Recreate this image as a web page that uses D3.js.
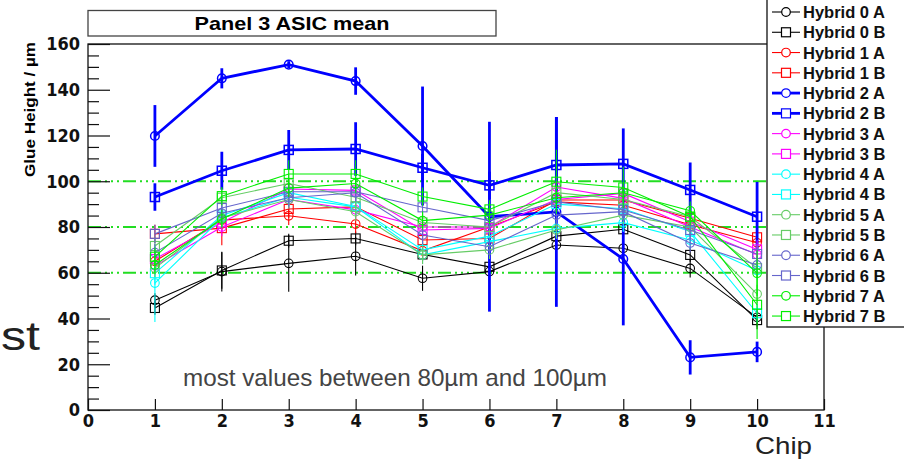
<!DOCTYPE html>
<html><head><meta charset="utf-8">
<script src="https://cdn.jsdelivr.net/npm/d3@7"></script>
<style>
body{margin:0;background:#fff;}
svg{display:block;}
</style></head>
<body><svg id="c" width="904" height="461"></svg>
<script>
// ---------- data ----------
const chips = [1,2,3,4,5,6,7,8,9,10];
const xTicks = [0,1,2,3,4,5,6,7,8,9,10,11];
const yTicks = [0,20,40,60,80,100,120,140,160];
const refLines = [60,80,100];
const seriesNames = ["Hybrid 0 A","Hybrid 0 B","Hybrid 1 A","Hybrid 1 B","Hybrid 2 A","Hybrid 2 B","Hybrid 3 A","Hybrid 3 B",
                     "Hybrid 4 A","Hybrid 4 B","Hybrid 5 A","Hybrid 5 B","Hybrid 6 A","Hybrid 6 B","Hybrid 7 A","Hybrid 7 B"];
const h0A = [48.0, 60.5, 64.1, 67.2, 57.6, 60.5, 72.1, 70.7, 61.9, 40.5];
const h0B = [44.6, 61.0, 74.0, 75.0, 68.0, 62.6, 76.0, 79.0, 67.8, 39.3];
const h1A = [65.0, 83.0, 84.9, 81.3, 69.6, 80.0, 91.0, 89.5, 81.0, 73.1];
const h1B = [77.0, 79.5, 87.9, 88.8, 74.3, 75.0, 91.8, 91.8, 83.8, 75.5];
const h2A = [119.8, 145.0, 151.0, 143.8, 115.4, 84.5, 86.6, 66.0, 23.0, 25.4];
const h2B = [93.1, 104.6, 113.7, 114.1, 105.9, 98.2, 107.1, 107.6, 96.2, 84.5];
const h3A = [63.0, 80.0, 92.0, 87.5, 80.0, 80.0, 97.5, 92.5, 80.0, 68.0];
const h3B = [66.0, 82.0, 96.6, 96.0, 78.7, 79.4, 92.0, 94.7, 82.3, 70.2];
const h4A = [55.5, 84.0, 93.0, 88.8, 67.8, 73.6, 79.4, 81.9, 74.3, 61.0];
const h4B = [59.8, 85.0, 95.0, 89.0, 70.0, 76.0, 90.0, 88.0, 78.0, 42.3];
const h5A = [62.0, 84.0, 92.0, 86.7, 67.8, 70.0, 78.7, 85.2, 80.0, 50.7];
const h5B = [71.7, 92.8, 99.0, 93.0, 82.0, 80.0, 95.0, 92.0, 84.5, 62.0];
const h6A = [68.8, 86.0, 92.8, 95.0, 76.5, 71.4, 85.2, 86.7, 73.0, 63.4];
const h6B = [77.0, 88.3, 95.4, 95.4, 88.6, 82.8, 91.0, 87.4, 78.7, 68.2];
const h7A = [63.4, 83.5, 97.0, 99.0, 82.8, 85.2, 92.8, 95.0, 87.1, 59.8];
const h7B = [67.0, 93.5, 103.2, 103.2, 93.3, 87.7, 99.8, 97.3, 84.5, 46.0];
// errors (half-widths)
const e0A = [3, 8.7, 12.4, 8.4, 5.5, 4, 4, 4, 4, 4];
const e0B = [3, 8, 3, 3, 3, 3, 4, 3, 3, 4];
const e1A = [4, 4, 4, 4, 4, 4, 4, 4, 4, 4];
const e1B = [4, 7.5, 4, 4, 4, 4, 4, 4, 4, 4];
const e2A = [13.5, 4.4, 1.5, 6, 26, 41.5, 41.5, 29, 7.5, 4.5];
const e2B = [6, 8.3, 8.7, 11.7, 6, 6, 21, 15.5, 12, 15.2];
const e3A = [4, 4, 4, 4, 4, 4, 4, 4, 4, 4];
const e3B = [4, 4, 4, 4, 4, 4, 4, 4, 4, 4];
const e4A = [17, 4, 4, 4, 4, 4, 4, 4, 4, 4];
const e4B = [5, 4, 4, 4, 4, 4, 4, 4, 4, 4];
const e5A = [4, 4, 4, 4, 4, 4, 4, 4, 4, 4];
const e5B = [4, 4, 4, 4, 4, 4, 4, 4, 4, 4];
const e6A = [4, 4, 4, 4, 4, 4, 4, 4, 4, 4];
const e6B = [4, 4, 4, 4, 4, 4, 4, 4, 4, 4];
const e7A = [4, 4, 4, 4, 4, 4, 4, 4, 4, 10];
const e7B = [4, 4, 6, 6, 4, 4, 14, 9, 4, 15];

const values = [h0A,h0B,h1A,h1B,h2A,h2B,h3A,h3B,h4A,h4B,h5A,h5B,h6A,h6B,h7A,h7B];
const errors = [e0A,e0B,e1A,e1B,e2A,e2B,e3A,e3B,e4A,e4B,e5A,e5B,e6A,e6B,e7A,e7B];
const hybridColors = ["#000000","#ff0000","#0000ff","#ff00ff","#00ffff","#66cc66","#6666cc","#00ee00"];

// ---------- drawing ----------
const svg = d3.select("#c");
const x = d3.scaleLinear().domain([0,11]).range([88,824]);
const y = d3.scaleLinear().domain([0,160]).range([410,44]);
const boldNarrow = "'Liberation Sans Narrow','DejaVu Sans Condensed','Liberation Sans',Arial,sans-serif";

svg.append("rect").attr("width",904).attr("height",461).attr("fill","#fff");

// large text at left edge
svg.append("text").attr("x",1).attr("y",350).attr("font-family","'Liberation Sans',Arial,sans-serif")
  .attr("font-size",40).attr("fill","#222").attr("textLength",39).attr("lengthAdjust","spacingAndGlyphs").text("st");

// title box
svg.append("rect").attr("x",88).attr("y",10.5).attr("width",408).attr("height",25.5)
  .attr("fill","#fff").attr("stroke","#444").attr("stroke-width",1.3);
svg.append("text").attr("x",292).attr("y",30).attr("text-anchor","middle")
  .attr("font-family","'Liberation Sans',Arial,sans-serif").attr("font-weight","bold")
  .attr("font-size",19).attr("textLength",195).attr("lengthAdjust","spacingAndGlyphs").text("Panel 3 ASIC mean");

// reference lines
svg.append("g").selectAll("line").data(refLines).join("line")
  .attr("x1",x(0)).attr("x2",x(11)).attr("y1",d=>y(d)).attr("y2",d=>y(d))
  .attr("stroke","#22dd22").attr("stroke-width",2).attr("stroke-dasharray","13,4,2,4,2,4,2,4");

// series
values.forEach((vals,i)=>{
  const col = hybridColors[Math.floor(i/2)];
  const thick = (i===4||i===5);
  const lw = thick?2.8:1.1;
  const g = svg.append("g");
  const pts = chips.map((c,k)=>({c, v:vals[k], e:errors[i][k]}));
  g.selectAll("line.err").data(pts).join("line").attr("class","err")
    .attr("x1",d=>x(d.c)).attr("x2",d=>x(d.c)).attr("y1",d=>y(d.v-d.e)).attr("y2",d=>y(d.v+d.e))
    .attr("stroke",col).attr("stroke-width",lw);
  g.append("path").datum(pts).attr("fill","none").attr("stroke",col).attr("stroke-width",lw)
    .attr("d",d3.line().x(d=>x(d.c)).y(d=>y(d.v)));
  if(i%2===0){
    g.selectAll("circle").data(pts).join("circle").attr("cx",d=>x(d.c)).attr("cy",d=>y(d.v)).attr("r",4.3)
      .attr("fill","none").attr("stroke",col).attr("stroke-width",thick?1.5:1.1);
  } else {
    g.selectAll("rect").data(pts).join("rect").attr("x",d=>x(d.c)-4.5).attr("y",d=>y(d.v)-4.5)
      .attr("width",9).attr("height",9).attr("fill","none").attr("stroke",col).attr("stroke-width",thick?1.5:1.1);
  }
});

// frame
svg.append("rect").attr("x",x(0)).attr("y",y(160)).attr("width",x(11)-x(0)).attr("height",y(0)-y(160))
  .attr("fill","none").attr("stroke","#111").attr("stroke-width",1.3);

// y axis
const yMajor = d3.axisLeft(y).tickValues(yTicks).tickSizeInner(-22).tickSizeOuter(0).tickPadding(8);
const gy = svg.append("g").attr("transform",`translate(${x(0)},0)`).call(yMajor);
gy.select(".domain").remove();
gy.selectAll("line").attr("stroke","#111").attr("stroke-width",1.2);
gy.selectAll("text").attr("font-family",boldNarrow).attr("font-weight","bold").attr("font-size",18).attr("fill","#111");
const minorVals = d3.range(0,161,5).filter(v=>v%20!==0);
const gym = svg.append("g").attr("transform",`translate(${x(0)},0)`)
  .call(d3.axisLeft(y).tickValues(minorVals).tickSizeInner(-11).tickSizeOuter(0).tickFormat(""));
gym.select(".domain").remove();
gym.selectAll("line").attr("stroke","#111").attr("stroke-width",1.2);

// x axis
const gx = svg.append("g").attr("transform",`translate(0,${y(0)})`)
  .call(d3.axisBottom(x).tickValues(xTicks).tickSizeInner(-11).tickSizeOuter(0).tickPadding(4));
gx.select(".domain").remove();
gx.selectAll("line").attr("stroke","#111").attr("stroke-width",1.2);
gx.selectAll("text").attr("font-family",boldNarrow).attr("font-weight","bold").attr("font-size",18).attr("fill","#111");

// axis titles
svg.append("text").attr("transform","translate(35,42) rotate(-90)").attr("text-anchor","end")
  .attr("font-family","'Liberation Sans',Arial,sans-serif").attr("font-weight","bold").attr("font-size",15)
  .attr("textLength",135).attr("lengthAdjust","spacingAndGlyphs").text("Glue Height / µm");
svg.append("text").attr("x",812).attr("y",454).attr("text-anchor","end")
  .attr("font-family","'Liberation Sans',Arial,sans-serif").attr("font-size",24).attr("fill","#222")
  .attr("textLength",57).attr("lengthAdjust","spacingAndGlyphs").text("Chip");

// annotation
svg.append("text").attr("x",183).attr("y",386)
  .attr("font-family","'Liberation Sans',Arial,sans-serif").attr("font-size",24).attr("fill","#444")
  .attr("textLength",424).attr("lengthAdjust","spacingAndGlyphs").text("most values between 80µm and 100µm");

// legend
const lg = svg.append("g");
lg.append("rect").attr("x",767).attr("y",-1).attr("width",140).attr("height",328)
  .attr("fill","#fff").attr("stroke","#111").attr("stroke-width",1.3);
const rowY = i=>12+i*20.27;
seriesNames.forEach((name,i)=>{
  const col = hybridColors[Math.floor(i/2)];
  const thick = (i===4||i===5);
  const cy = rowY(i);
  lg.append("line").attr("x1",772).attr("x2",800).attr("y1",cy).attr("y2",cy)
    .attr("stroke",col).attr("stroke-width",thick?2.8:1.1);
  if(i%2===0){
    lg.append("circle").attr("cx",786).attr("cy",cy).attr("r",4.3).attr("fill","#fff").attr("stroke",col).attr("stroke-width",1.2);
  } else {
    lg.append("rect").attr("x",781.5).attr("y",cy-4.5).attr("width",9).attr("height",9).attr("fill","#fff").attr("stroke",col).attr("stroke-width",1.2);
  }
  lg.append("text").attr("x",803).attr("y",cy+6).attr("font-family","'Liberation Sans',Arial,sans-serif")
    .attr("font-weight","bold").attr("font-size",16.5).attr("fill","#111").text(name);
});
</script></body></html>
